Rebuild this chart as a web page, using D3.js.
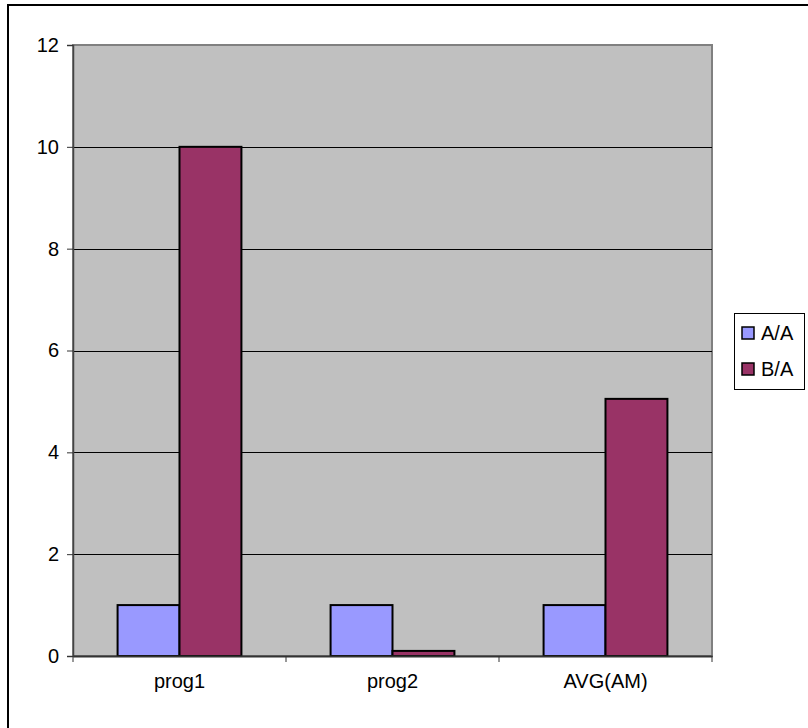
<!DOCTYPE html>
<html>
<head>
<meta charset="utf-8">
<script src="https://cdn.jsdelivr.net/npm/d3@7"></script>
<style>
  html, body { margin: 0; padding: 0; background: #fff; }
  svg { display: block; font-family: "Liberation Sans", Arial, sans-serif; }
</style>
</head>
<body>
<svg id="chart" width="808" height="728"></svg>
<script>
// Ratios per program, plus the arithmetic mean
const categories = ["prog1", "prog2", "AVG(AM)"];
const seriesNames = ["A/A", "B/A"];
const valuesAA = [1, 1, 1];
const valuesBA = [10, 0.1, 5.05];
const yTicks = [0, 2, 4, 6, 8, 10, 12];
const colors = ["#9999FF", "#993366"];

const series = [valuesAA, valuesBA];
const FONT = "Liberation Sans, Arial, sans-serif";
const FS = 20;

const svg = d3.select("#chart");

// outer chart frame (extends past the right/bottom edges)
svg.append("rect")
  .attr("x", 8).attr("y", 5)
  .attr("width", 820).attr("height", 740)
  .attr("fill", "#fff").attr("stroke", "#000").attr("stroke-width", 2);

const plot = { left: 73, top: 45, right: 712, bottom: 656 };

const x = d3.scaleBand().domain(categories).range([plot.left, plot.right]).paddingInner(0).paddingOuter(0);
const inner = d3.scaleBand().domain(seriesNames).range([0, x.bandwidth()]).paddingInner(0).paddingOuter(0.72);
const y = d3.scaleLinear().domain([0, 12]).range([plot.bottom, plot.top]);

// plot background
svg.append("rect")
  .attr("x", plot.left).attr("y", plot.top)
  .attr("width", plot.right - plot.left).attr("height", plot.bottom - plot.top)
  .attr("fill", "#C0C0C0").attr("stroke", "#808080").attr("stroke-width", 2);

// horizontal gridlines
svg.append("g").selectAll("line")
  .data(yTicks.filter(t => t > 0 && t < 12))
  .join("line")
  .attr("x1", plot.left).attr("x2", plot.right)
  .attr("y1", d => Math.round(y(d)) + 0.5).attr("y2", d => Math.round(y(d)) + 0.5)
  .attr("stroke", "#000").attr("stroke-width", 1);

// bars
const groups = svg.append("g").selectAll("g")
  .data(categories)
  .join("g")
  .attr("transform", d => `translate(${x(d)},0)`);

groups.selectAll("rect")
  .data((c, i) => seriesNames.map((s, j) => ({ s, j, v: series[j][i] })))
  .join("rect")
  .attr("x", d => inner(d.s))
  .attr("width", inner.bandwidth())
  .attr("y", d => y(d.v))
  .attr("height", d => y(0) - y(d.v))
  .attr("fill", d => colors[d.j])
  .attr("stroke", "#000").attr("stroke-width", 2);

// y axis
const yAxis = svg.append("g")
  .attr("transform", `translate(${plot.left},0)`)
  .call(d3.axisLeft(y).tickValues(yTicks).tickSize(6).tickPadding(8).tickFormat(d3.format("d")));
yAxis.select(".domain").attr("stroke", "#444").attr("stroke-width", 1.5);
yAxis.selectAll(".tick line").attr("stroke", "#333");
yAxis.selectAll("text").attr("font-size", FS).attr("fill", "#000").attr("font-family", FONT);

// x axis
const xAxis = svg.append("g")
  .attr("transform", `translate(0,${plot.bottom})`)
  .call(d3.axisBottom(x).tickSize(0).tickPadding(18));
xAxis.select(".domain").attr("stroke", "#333").attr("stroke-width", 2);
xAxis.selectAll("text").attr("font-size", FS).attr("fill", "#000").attr("font-family", FONT);

// category separator ticks
svg.append("g").selectAll("line")
  .data(d3.range(categories.length + 1))
  .join("line")
  .attr("x1", i => plot.left + i * x.bandwidth())
  .attr("x2", i => plot.left + i * x.bandwidth())
  .attr("y1", plot.bottom).attr("y2", plot.bottom + 6)
  .attr("stroke", "#333").attr("stroke-width", 1);

// legend
const legend = svg.append("g");
legend.append("rect")
  .attr("x", 734.5).attr("y", 313.5).attr("width", 70).attr("height", 76)
  .attr("fill", "#fff").attr("stroke", "#000").attr("stroke-width", 1);
const items = legend.selectAll("g.item")
  .data(seriesNames)
  .join("g").attr("class", "item")
  .attr("transform", (d, i) => `translate(742,${327 + i * 36})`);
items.append("rect")
  .attr("x", 0).attr("y", 0).attr("width", 12).attr("height", 12)
  .attr("fill", (d, i) => colors[i]).attr("stroke", "#000").attr("stroke-width", 1.5);
items.append("text")
  .attr("x", 19).attr("y", 13)
  .attr("font-size", FS).attr("fill", "#000").attr("font-family", FONT)
  .text(d => d);
</script>
</body>
</html>
